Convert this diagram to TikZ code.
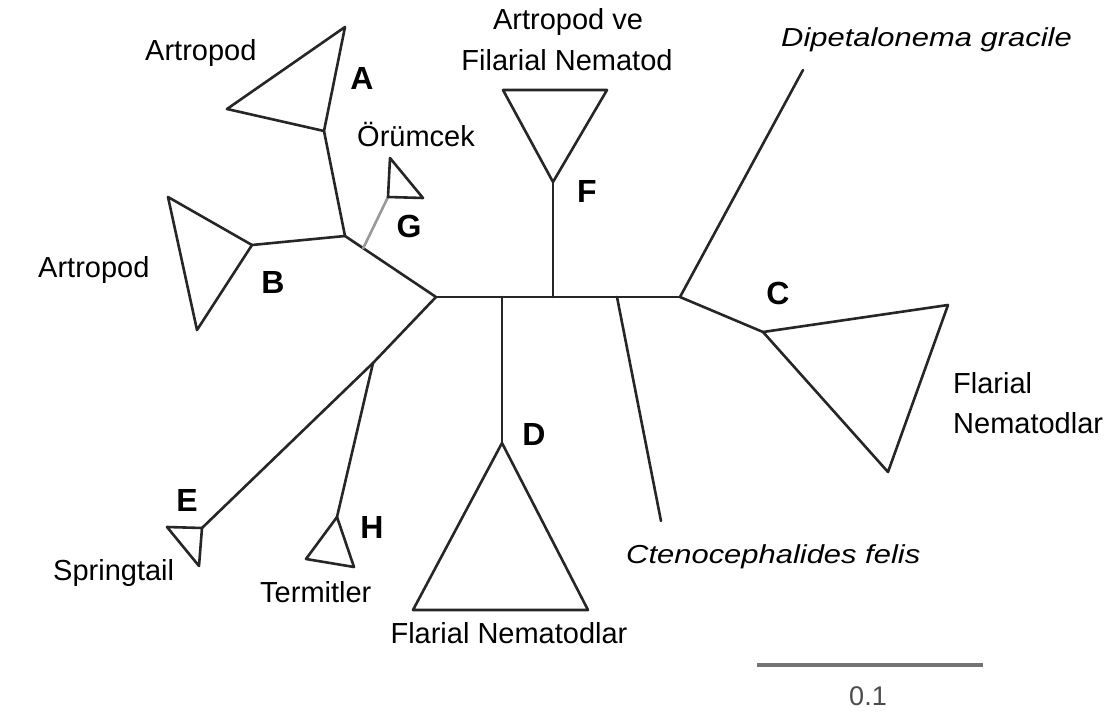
\documentclass[tikz,border=0pt]{standalone}
\usepackage{fontspec}
\setmainfont{Liberation Sans}
\newfontfamily\widenit[FakeStretch=1.19]{Liberation Sans}
\usetikzlibrary{calc}
\begin{document}
\begin{tikzpicture}[x=1pt,y=-1pt,
  branch/.style={line width=2.6pt, draw=black!85, line join=round, line cap=round},
  faint/.style={line width=2.6pt, draw=black!40, line cap=round},
  lbl/.style={font=\fontsize{29}{34}\selectfont, inner sep=0pt},
  ital/.style={font=\widenit\itshape\fontsize{26}{30}\selectfont, inner sep=0pt},
  letter/.style={font=\bfseries\fontsize{32}{36}\selectfont, inner sep=0pt},
  scalebar/.style={line width=4pt, draw=black!55}]
\useasboundingbox[fill=white] (0,0) rectangle (1114,714);
% junctions
\coordinate (R) at (436,297);
\coordinate (J1) at (345,236);
\coordinate (JG) at ($(J1)!0.2!(R)$);
\coordinate (JD) at (502,297);
\coordinate (JF) at (553,297);
\coordinate (JCt) at (617,297);
\coordinate (JC) at (680,297);
\coordinate (JH) at (373,363);
% A
\coordinate (A0) at (324,131);
\coordinate (A1) at (345,27);
\coordinate (A2) at (227,109);
% B
\coordinate (B0) at (252,245);
\coordinate (B1) at (168,197);
\coordinate (B2) at (197,330);
% G
\coordinate (G0) at (388,197);
\coordinate (G1) at (390,158);
\coordinate (G2) at (423,198);
% F
\coordinate (F0) at (553,182);
\coordinate (F1) at (503,90);
\coordinate (F2) at (607,90);
% D
\coordinate (D0) at (502,443);
\coordinate (D1) at (413,610);
\coordinate (D2) at (588,610);
% Ctenocephalides
\coordinate (Ct) at (661,521);
% Dipetalonema
\coordinate (Dg) at (803,70);
% C
\coordinate (C0) at (763,332);
\coordinate (C1) at (948,305);
\coordinate (C2) at (888,472);
% E
\coordinate (E0) at (202,528);
\coordinate (E1) at (167,527);
\coordinate (E2) at (199,566);
% H
\coordinate (H0) at (337,517);
\coordinate (H1) at (306,559);
\coordinate (H2) at (354,567);
% scale
\coordinate (S1) at (757,665);
\coordinate (S2) at (983,665);

% branches
\draw[branch] (R) -- (JC);
\draw[branch] (R) -- (J1);
\draw[branch] (J1) -- (A0);
\draw[branch] (A0) -- (A1) -- (A2) -- cycle;
\draw[branch] (J1) -- (B0);
\draw[branch] (B0) -- (B1) -- (B2) -- cycle;
\draw[faint] (JG) -- (G0);
\draw[branch] (G0) -- (G1) -- (G2) -- cycle;
\draw[branch] (JF) -- (F0);
\draw[branch] (F0) -- (F1) -- (F2) -- cycle;
\draw[branch] (JD) -- (D0);
\draw[branch] (D0) -- (D1) -- (D2) -- cycle;
\draw[branch] (JCt) -- (Ct);
\draw[branch] (JC) -- (Dg);
\draw[branch] (JC) -- (C0);
\draw[branch] (C0) -- (C1) -- (C2) -- cycle;
\draw[branch] (R) -- (JH) -- (E0);
\draw[branch] (E0) -- (E1) -- (E2) -- cycle;
\draw[branch] (JH) -- (H0);
\draw[branch] (H0) -- (H1) -- (H2) -- cycle;
\draw[scalebar] (S1) -- (S2);

% labels
\node[lbl, anchor=base west] (tA) at (145,61) {Artropod};
\node[letter, anchor=base] (lA) at (362,90) {A};
\node[lbl, anchor=base west] (tG) at (357,147) {Örümcek};
\node[letter, anchor=base] (lG) at (409,237) {G};
\node[lbl, anchor=base west] (tB) at (38,277) {Artropod};
\node[letter, anchor=base] (lB) at (273,293) {B};
\node[lbl, anchor=base] (tF1) at (568,30) {Artropod ve};
\node[lbl, anchor=base] (tF2) at (567,71) {Filarial Nematod};
\node[letter, anchor=base] (lF) at (587,203) {F};
\node[ital, anchor=base west] (tDg) at (781,47) {Dipetalonema gracile};
\node[letter, anchor=base] (lC) at (778,304) {C};
\node[lbl, anchor=base west] (tC1) at (953,393) {Flarial};
\node[lbl, anchor=base west] (tC2) at (953,433) {Nematodlar};
\node[letter, anchor=base] (lD) at (534,445) {D};
\node[ital, anchor=base west] (tCt) at (626,563) {Ctenocephalides felis};
\node[lbl, anchor=base] (tD) at (509,643) {Flarial Nematodlar};
\node[letter, anchor=base] (lE) at (187,511) {E};
\node[lbl, anchor=base west] (tE) at (53,580) {Springtail};
\node[letter, anchor=base] (lH) at (372,538) {H};
\node[lbl, anchor=base west] (tH) at (260,602) {Termitler};
\node[lbl, anchor=base, text=black!70, font=\fontsize{27}{30}\selectfont] (tS) at (868,705) {0.1};
\end{tikzpicture}
\end{document}
